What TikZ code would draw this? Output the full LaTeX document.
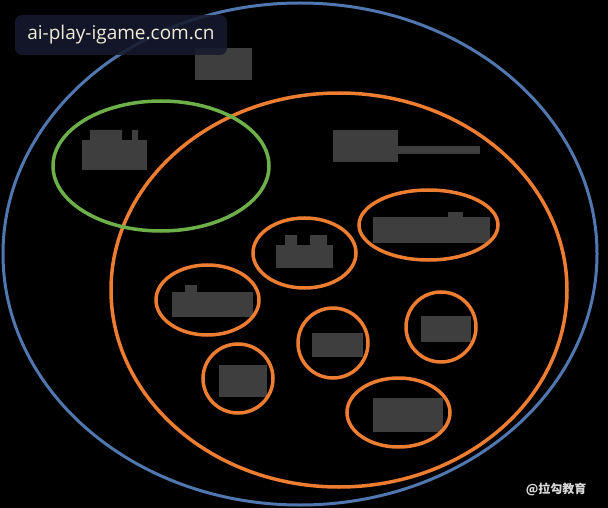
\documentclass[tikz,border=0pt]{standalone}
\usepackage{fontspec}
\newfontfamily\wmfont{Open Sans}
\newfontfamily\cjkfont{Noto Sans CJK SC}
\usetikzlibrary{shapes.geometric}
\definecolor{ringblue}{HTML}{5077B0}
\definecolor{ringorange}{HTML}{ED7D31}
\definecolor{ringgreen}{HTML}{6DB04A}
\definecolor{mosaic}{HTML}{3E3E3E}
\definecolor{wmbox}{HTML}{161A2E}
\definecolor{wmtext}{HTML}{F2ECDA}

\begin{document}
\begin{tikzpicture}[
    x=1pt, y=-1pt,
    ring/.style={ellipse, draw, line width=3.5pt, inner sep=0pt},
    blur/.style={rectangle, fill=mosaic, inner sep=0pt}
]
\fill[black] (0,0) rectangle (608,508);
\useasboundingbox (0,0) rectangle (608,508);

\node[blur, minimum width=57pt, minimum height=32pt] (outerlbl) at (223.5,64) {};
\node[blur, minimum width=65pt, minimum height=30pt] (greenlbl) at (114.5,155) {};
\node[blur, minimum width=65pt, minimum height=32pt] (biglbl) at (365.5,146) {};
\node[blur, minimum width=57pt, minimum height=23pt] (lbla) at (304.5,256.5) {};
\node[blur, minimum width=117pt, minimum height=26pt] (lblb) at (431.5,230) {};
\node[blur, minimum width=81pt, minimum height=25pt] (lblc) at (212.5,304.5) {};
\node[blur, minimum width=51pt, minimum height=24pt] (lbld) at (337.5,345) {};
\node[blur, minimum width=50pt, minimum height=26pt] (lble) at (446,329) {};
\node[blur, minimum width=48pt, minimum height=32pt] (lblf) at (243,381) {};
\node[blur, minimum width=70pt, minimum height=34pt] (lblg) at (408,415) {};
\fill[mosaic] (biglbl.east) rectangle (480,154);
\fill[mosaic] (90,130) rectangle (122,140) (132,130) rectangle (138,140);
\fill[mosaic] (285,235) rectangle (297,245) (310,235) rectangle (327,245);
\fill[mosaic] (448,212) rectangle (463,217);
\fill[mosaic] (185,285) rectangle (197,292);

\node[ring, draw=ringblue, line width=3pt, minimum width=594pt, minimum height=502pt] (outer) at (300,254) {};
\node[ring, draw=ringorange, minimum width=456pt, minimum height=394pt] (big) at (339,290) {};
\node[ring, draw=ringgreen, minimum width=216pt, minimum height=130pt] (green) at (161,166) {};
\node[ring, draw=ringorange, minimum width=103pt, minimum height=70pt] (ella) at (304.5,253) {};
\node[ring, draw=ringorange, minimum width=139pt, minimum height=70pt] (ellb) at (428.5,225) {};
\node[ring, draw=ringorange, minimum width=103pt, minimum height=70pt] (ellc) at (207.5,300) {};
\node[ring, draw=ringorange, minimum width=70pt, minimum height=70pt] (elld) at (333,343) {};
\node[ring, draw=ringorange, minimum width=70pt, minimum height=70pt] (elle) at (441,327) {};
\node[ring, draw=ringorange, minimum width=70pt, minimum height=69pt] (ellf) at (238,378.5) {};
\node[ring, draw=ringorange, minimum width=103pt, minimum height=69pt] (ellg) at (398.5,412.5) {};

\node[rectangle, rounded corners=7pt, fill=wmbox, fill opacity=0.88, text opacity=1,
      minimum width=212pt, minimum height=40pt, text=wmtext,
      font=\wmfont\fontsize{19}{19}\selectfont] (wm) at (121,35) {ai-play-igame.com.cn};
\node[text=white!85!black, font=\cjkfont\bfseries\fontsize{12}{12}\selectfont] (brand) at (556,489) {@拉勾教育};
\end{tikzpicture}
\end{document}
